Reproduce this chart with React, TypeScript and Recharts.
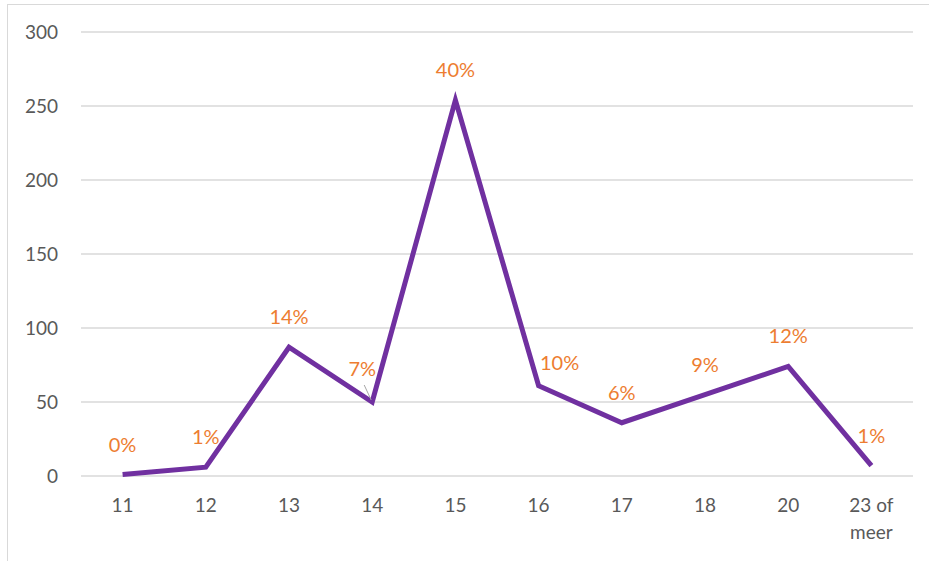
// Leeftijdsverdeling: aantal per leeftijd met aandeel in procenten
import { LineChart, Line, XAxis, YAxis, CartesianGrid, LabelList } from "recharts";

const ages = ["11", "12", "13", "14", "15", "16", "17", "18", "20", "23 of meer"];
const counts = [1, 6, 87, 50, 254, 61, 36, 55, 74, 7];
const shares = ["0%", "1%", "14%", "7%", "40%", "10%", "6%", "9%", "12%", "1%"];
const yTicks = [0, 50, 100, 150, 200, 250, 300];

const data = ages.map((age, i) => ({ age, count: counts[i], share: shares[i] }));

const FONT = "Lato, 'Open Sans', sans-serif";

// kleine verschuivingen zoals in het origineel (label 14 en 16 staan opzij)
const nudge: Record<number, [number, number]> = {
  3: [-10, -3],
  5: [21, 7],
};

function ShareLabel(props: any) {
  const { x, y, index, value } = props;
  const [dx, dy] = nudge[index] || [0, 0];
  const lx = x + dx;
  const ly = y - 31 + dy;
  return (
    <g>
      {index === 3 && (
        <line x1={x - 8} y1={y - 17} x2={x - 1} y2={y - 2} stroke="#a6a6a6" strokeWidth={1} />
      )}
      <text
        x={lx}
        y={ly}
        textAnchor="middle"
        dominantBaseline="central"
        fill="#ED7D31"
        fontSize={20}
        fontFamily={FONT}
      >
        {value}
      </text>
    </g>
  );
}

function AgeTick(props: any) {
  const { x, y, payload } = props;
  const words = String(payload.value).split(" ");
  const lines = words.length > 2 ? [words.slice(0, -1).join(" "), words[words.length - 1]] : [payload.value];
  return (
    <text x={x} y={y} textAnchor="middle" fill="#595959" fontSize={19} fontFamily={FONT}>
      {lines.map((l: string, i: number) => (
        <tspan key={i} x={x} dy={i === 0 ? "0.71em" : "1.4em"}>
          {l}
        </tspan>
      ))}
    </text>
  );
}

export default function App() {
  return (
    <div
      style={{
        position: "fixed",
        left: 0,
        top: 0,
        width: 929,
        height: 561,
        overflow: "hidden",
        background: "#fff",
      }}
    >
      <div
        style={{
          position: "absolute",
          left: 7,
          top: 4,
          width: 940,
          height: 580,
          borderTop: "1px solid #d9d9d9",
          borderLeft: "1px solid #d9d9d9",
        }}
      />
      <div style={{ position: "absolute", left: 0, top: 0 }}>
        <LineChart width={929} height={561} data={data} margin={{ top: 32, right: 16, bottom: 35, left: 0 }}>
          <CartesianGrid vertical={false} stroke="#d9d9d9" strokeWidth={1.5} />
          <XAxis
            dataKey="age"
            axisLine={false}
            tickLine={false}
            tickSize={0}
            tickMargin={23}
            height={50}
            padding={{ left: 41.6, right: 41.6 }}
            tick={<AgeTick />}
            interval={0}
          />
          <YAxis
            domain={[0, 300]}
            ticks={yTicks}
            axisLine={false}
            tickLine={false}
            tickSize={0}
            tickMargin={23}
            width={81}
            tick={{ fill: "#595959", fontSize: 19, fontFamily: FONT }}
          />
          <Line
            type="linear"
            dataKey="count"
            stroke="#7030A0"
            strokeWidth={5}
            dot={false}
            isAnimationActive={false}
          >
            <LabelList dataKey="share" content={<ShareLabel />} />
          </Line>
        </LineChart>
      </div>
    </div>
  );
}
